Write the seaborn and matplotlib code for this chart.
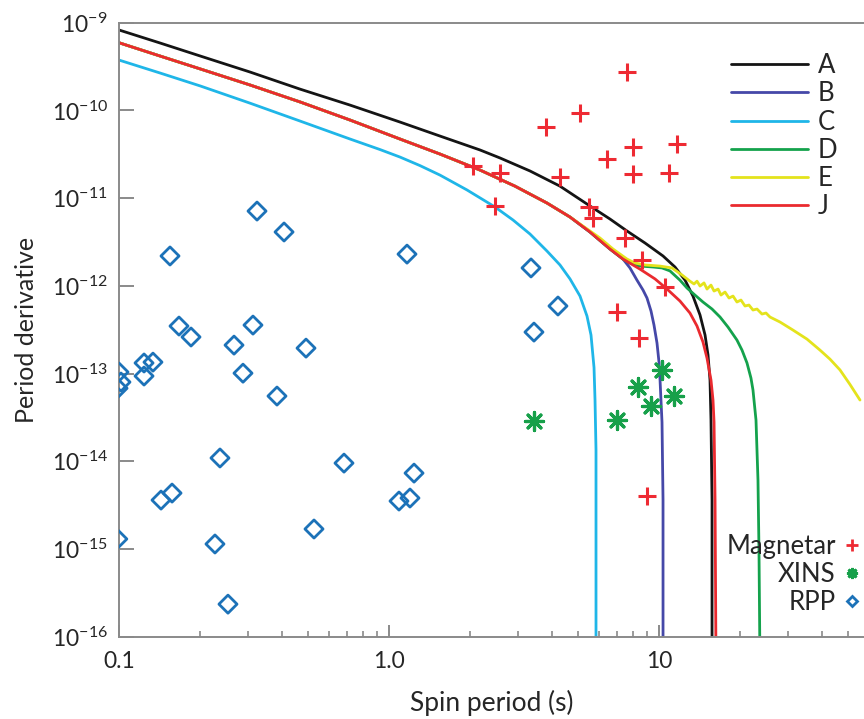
import matplotlib.pyplot as plt
import matplotlib.ticker as mticker
import pandas as pd
import seaborn as sns

# ---- data (spin period in s, period derivative) ----
A_P = [0.1, 0.1419, 0.2, 0.3056, 0.468, 0.7172, 1.098, 1.545, 2.173, 2.577,
       3.328, 4.298, 5.552, 6.583, 7.611, 8.874, 10.35, 11.46, 12.49, 13.36,
       14.19, 14.81, 15.19, 15.45, 15.58, 15.72, 15.72]
A_Pdot = [8.26e-10, 5.87e-10, 4.17e-10, 2.74e-10, 1.75e-10, 1.15e-10, 7.37e-11,
          5.10e-11, 3.54e-11, 2.87e-11, 2.04e-11, 1.37e-11, 8.13e-12, 5.78e-12,
          4.22e-12, 3.08e-12, 2.19e-12, 1.64e-12, 1.16e-12, 7.65e-13, 4.65e-13,
          2.75e-13, 1.63e-13, 8.43e-14, 2.95e-14, 3.61e-15, 5e-17]

J_P = [0.1, 0.1419, 0.2, 0.3056, 0.468, 0.7172, 1.098, 1.545, 2.173, 2.928,
       3.848, 4.681, 5.552, 6.583, 7.356, 8.505, 9.665, 10.71, 11.96, 13.02,
       13.83, 14.55, 15.06, 15.58, 15.85, 15.99, 16.13, 16.26]
J_Pdot = [5.91e-10, 4.17e-10, 2.97e-10, 1.95e-10, 1.25e-10, 7.77e-11, 4.72e-11,
          3.18e-11, 2.09e-11, 1.37e-11, 8.79e-12, 6.09e-12, 4.11e-12, 2.63e-12,
          2.02e-12, 1.55e-12, 1.20e-12, 9.19e-13, 6.71e-13, 4.90e-13, 3.48e-13,
          2.29e-13, 1.50e-13, 8.43e-14, 4.99e-14, 2.80e-14, 3.61e-15, 5e-17]

C_P = [0.1, 0.1419, 0.2, 0.3056, 0.468, 0.7172, 0.9262, 1.098, 1.302, 1.545,
       1.944, 2.470, 2.880, 3.328, 3.848, 4.298, 4.681, 5.098, 5.412, 5.600,
       5.746, 5.795, 5.844, 5.844]
C_Pdot = [3.75e-10, 2.67e-10, 1.90e-10, 1.21e-10, 7.57e-11, 4.72e-11, 3.58e-11,
          2.94e-11, 2.35e-11, 1.83e-11, 1.24e-11, 7.92e-12, 5.63e-12, 3.90e-12,
          2.49e-12, 1.73e-12, 1.20e-12, 7.65e-13, 4.52e-13, 2.75e-13, 1.17e-13,
          4.99e-14, 1.34e-14, 5e-17]

B_P = [0.1, 0.1419, 0.2, 0.3056, 0.468, 0.7172, 1.098, 1.545, 2.173, 2.928,
       3.848, 4.681, 5.552, 6.583, 7.356, 7.808, 8.290, 8.725, 9.028, 9.342,
       9.583, 9.831, 10.0, 10.09, 10.17, 10.26, 10.35, 10.35]
B_Pdot = [5.91e-10, 4.17e-10, 2.97e-10, 1.95e-10, 1.25e-10, 7.77e-11, 4.72e-11,
          3.18e-11, 2.09e-11, 1.37e-11, 8.79e-12, 6.09e-12, 4.11e-12, 2.63e-12,
          2.02e-12, 1.60e-12, 1.16e-12, 8.96e-13, 7.26e-13, 5.16e-13, 3.57e-13,
          2.23e-13, 1.35e-13, 8.43e-14, 4.99e-14, 2.80e-14, 3.61e-15, 5e-17]

D_P = [0.1, 0.1419, 0.2, 0.3056, 0.468, 0.7172, 1.098, 1.545, 2.173, 2.928,
       3.848, 4.681, 5.552, 6.583, 7.356, 7.808, 8.505, 9.502, 10.26, 10.98,
       11.96, 12.70, 13.59, 14.55, 15.72, 16.83, 18.01, 19.44, 20.30, 21.18,
       21.91, 22.29, 22.87, 23.26, 23.46, 23.66]
D_Pdot = [5.91e-10, 4.17e-10, 2.97e-10, 1.95e-10, 1.25e-10, 7.77e-11, 4.72e-11,
          3.18e-11, 2.09e-11, 1.37e-11, 8.79e-12, 6.09e-12, 4.11e-12, 2.63e-12,
          2.02e-12, 1.82e-12, 1.68e-12, 1.64e-12, 1.60e-12, 1.48e-12, 1.16e-12,
          9.44e-13, 7.85e-13, 6.54e-13, 5.44e-13, 4.41e-13, 3.39e-13, 2.41e-13,
          1.85e-13, 1.32e-13, 8.88e-14, 6.49e-14, 2.95e-14, 6.10e-15, 9.71e-16,
          5e-17]

E_P = [0.1, 0.1419, 0.2, 0.3056, 0.468, 0.7172, 1.098, 1.545, 2.173, 2.928,
       3.848, 4.681, 5.098, 5.552, 6.046, 6.754, 7.611, 8.150, 8.874, 10.09,
       11.17, 12.17, 13.02, 13.48, 13.83, 14.19, 14.68, 15.06, 15.58, 15.99,
       16.55, 16.97, 17.56, 18.17, 18.80, 19.44, 20.12, 20.82, 21.54, 22.29,
       23.07, 24.07, 24.91, 25.77, 28.06, 31.36, 35.33, 39.48, 42.98, 46.81,
       50.98, 55.52]
E_Pdot = [5.91e-10, 4.17e-10, 2.97e-10, 1.95e-10, 1.25e-10, 7.77e-11, 4.72e-11,
          3.18e-11, 2.09e-11, 1.37e-11, 8.79e-12, 6.09e-12, 5.07e-12, 4.22e-12,
          3.51e-12, 2.63e-12, 2.02e-12, 1.82e-12, 1.73e-12, 1.68e-12, 1.60e-12,
          1.33e-12, 1.13e-12, 1.05e-12, 1.13e-12, 9.95e-13, 1.08e-12, 9.19e-13,
          1.02e-12, 8.72e-13, 9.19e-13, 7.85e-13, 8.50e-13, 7.26e-13, 7.65e-13,
          6.54e-13, 6.89e-13, 5.89e-13, 6.04e-13, 5.30e-13, 5.44e-13, 4.77e-13,
          4.90e-13, 4.41e-13, 3.87e-13, 3.13e-13, 2.47e-13, 1.85e-13, 1.46e-13,
          1.10e-13, 7.51e-14, 4.99e-14]

models = ["A", "B", "C", "D", "E", "J"]
line_colors = {"A": "#141414", "B": "#4548a8", "C": "#1fb6e8",
               "D": "#14a24c", "E": "#e4e31c", "J": "#ea2a2f"}

mag_P = [7.611, 5.098, 3.815, 11.66, 8.013, 6.418, 2.047, 2.577, 4.30, 8.013,
         10.89, 2.470, 5.505, 5.696, 7.482, 8.650, 10.52, 6.99, 8.43, 9.028]
mag_Pdot = [2.74e-10, 9.34e-11, 6.47e-11, 4.14e-11, 3.83e-11, 2.79e-11, 2.32e-11,
            1.93e-11, 1.74e-11, 1.88e-11, 1.93e-11, 8.13e-12, 7.92e-12, 5.93e-12,
            3.51e-12, 1.97e-12, 9.69e-13, 5.03e-13, 2.54e-13, 4.01e-15]

xins_P = [3.443, 6.99, 8.36, 9.342, 10.26, 11.36]
xins_Pdot = [2.87e-14, 2.95e-14, 7.01e-14, 4.26e-14, 1.10e-13, 5.54e-14]

rpp_P = [0.3245, 0.4086, 0.1545, 1.166, 0.1668, 0.1848, 0.2667, 0.3135, 0.4928,
         0.2879, 0.3847, 0.1238, 0.1336, 0.1238, 0.1000, 0.1017, 0.0992, 0.2366,
         0.1431, 0.1572, 0.0990, 0.2267, 0.2533, 0.6813, 1.238, 1.089, 1.196,
         0.5275, 3.357, 4.225, 3.443]
rpp_Pdot = [7.12e-12, 4.11e-12, 2.19e-12, 2.30e-12, 3.48e-13, 2.61e-13, 2.11e-13,
            3.57e-13, 1.95e-13, 1.01e-13, 5.54e-14, 1.32e-13, 1.35e-13, 9.37e-14,
            1.04e-13, 8.00e-14, 6.80e-14, 1.09e-14, 3.61e-15, 4.34e-15, 1.30e-15,
            1.14e-15, 2.35e-16, 9.53e-15, 7.33e-15, 3.52e-15, 3.81e-15, 1.69e-15,
            1.60e-12, 5.89e-13, 2.97e-13]

y_ticks = [1e-16, 1e-15, 1e-14, 1e-13, 1e-12, 1e-11, 1e-10, 1e-9]
x_ticks = [0.1, 1, 10]
x_tick_labels = ["0.1", "1.0", "10"]

mag_color = "#ee2a33"
xins_color = "#17a04a"
rpp_color = "#1c72b8"

# ---- style ----
sns.set_style("ticks")
plt.rcParams["font.family"] = ["Lato", "DejaVu Sans"]
plt.rcParams["axes.unicode_minus"] = True
grey = "#8a8a8a"
txt = "#262626"

fig = plt.figure(figsize=(8.64, 7.19), dpi=100)
ax = fig.add_axes([119 / 864, 1 - 636.7 / 719, 745 / 864, 614 / 719])
ax.set_xscale("log")
ax.set_yscale("log")

curves = pd.concat([
    pd.DataFrame({"P": p, "Pdot": pdot, "model": m})
    for m, p, pdot in [("A", A_P, A_Pdot), ("B", B_P, B_Pdot), ("C", C_P, C_Pdot),
                       ("D", D_P, D_Pdot), ("E", E_P, E_Pdot), ("J", J_P, J_Pdot)]
], ignore_index=True)

sns.lineplot(data=curves, x="P", y="Pdot", hue="model", hue_order=models,
             palette=line_colors, sort=False, estimator=None, linewidth=2.0,
             ax=ax, legend=False)

sns.scatterplot(x=mag_P, y=mag_Pdot, marker="+", color=mag_color, s=150,
                linewidth=2.2, ax=ax, zorder=5)
sns.scatterplot(x=xins_P, y=xins_Pdot, marker=(8, 2, 0), color=xins_color, s=170,
                linewidth=2.3, ax=ax, zorder=5)
sns.scatterplot(x=rpp_P, y=rpp_Pdot, marker="D", facecolor="none",
                edgecolor=rpp_color, s=85, linewidth=2.0, ax=ax, zorder=5)

ax.set_xlim(0.1, 57.45)
ax.set_ylim(1e-16, 1e-9)

# axes frame and ticks
for side in ["left", "bottom", "top"]:
    ax.spines[side].set_color(grey)
    ax.spines[side].set_linewidth(1.4)
ax.spines["right"].set_visible(False)

ax.yaxis.set_major_locator(mticker.FixedLocator(y_ticks))
ax.yaxis.set_major_formatter(mticker.LogFormatterSciNotation())
ax.yaxis.set_minor_locator(mticker.NullLocator())
ax.xaxis.set_major_locator(mticker.FixedLocator(x_ticks))
ax.xaxis.set_major_formatter(mticker.FixedFormatter(x_tick_labels))
ax.xaxis.set_minor_locator(mticker.FixedLocator(
    [m * 10.0 ** e for e in (-1, 0, 1) for m in range(2, 10) if m * 10.0 ** e < 57]))
ax.xaxis.set_minor_formatter(mticker.NullFormatter())

ax.tick_params(axis="both", which="major", direction="in", color=grey,
               width=1.4, labelsize=16.5, labelcolor=txt)
ax.tick_params(axis="y", which="major", length=11, pad=8)
ax.tick_params(axis="x", which="major", length=9, pad=10)
ax.tick_params(axis="x", which="minor", direction="in", length=4, width=1.2,
               color=grey)
ax.tick_params(top=False, right=False, which="both")

ax.set_xlabel("Spin period (s)", fontsize=19, color=txt, labelpad=13)
ax.set_ylabel("Period derivative", fontsize=18, color=txt, labelpad=10)

# legend for the model curves
line_handles = [plt.Line2D([], [], color=line_colors[m], lw=2.0) for m in models]
leg1 = ax.legend(line_handles, models, loc="upper left",
                 bbox_to_anchor=(0.8215, 0.950), frameon=False, fontsize=18.5,
                 handlelength=3.0, handletextpad=0.39, labelspacing=0.12,
                 borderpad=0, borderaxespad=0)
for t in leg1.get_texts():
    t.set_color(txt)
ax.add_artist(leg1)

# legend for the source populations
pts = [
    plt.Line2D([], [], ls="", marker="+", color=mag_color, ms=8, mew=2.0),
    plt.Line2D([], [], ls="", marker=(8, 2, 0), color=xins_color, ms=8, mew=2.0),
    plt.Line2D([], [], ls="", marker="D", mfc="none", mec=rpp_color, ms=5.5, mew=2.0),
]
leg2 = ax.legend(pts, ["Magnetar", "XINS", "RPP"], loc="lower right",
                 bbox_to_anchor=(1.0, 0.035), frameon=False, fontsize=18.5,
                 markerfirst=False, handlelength=0.9, handletextpad=0.2,
                 labelspacing=0.12, borderpad=0, borderaxespad=0)
for t in leg2.get_texts():
    t.set_color(txt)

fig.savefig("out.png", dpi=100)
